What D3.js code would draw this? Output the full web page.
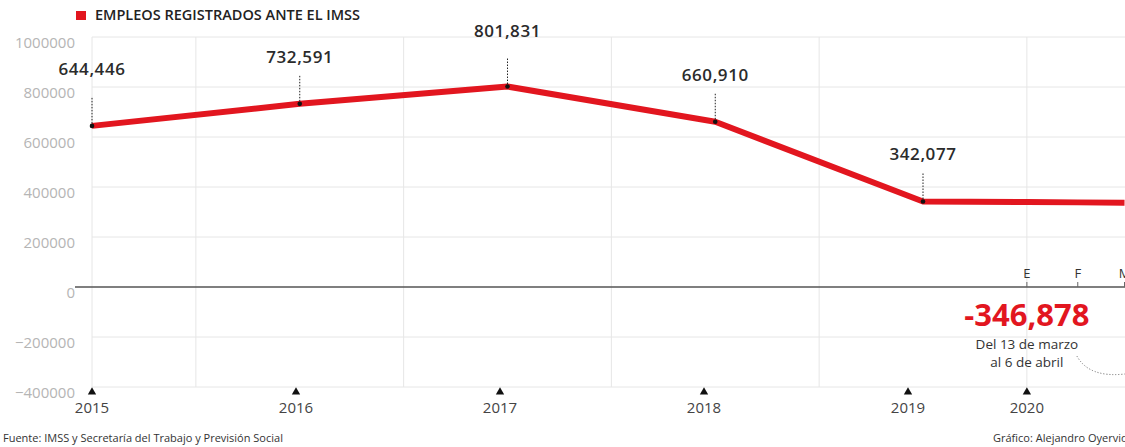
<!DOCTYPE html>
<html>
<head>
<meta charset="utf-8">
<script src="https://cdnjs.cloudflare.com/ajax/libs/d3/7.8.5/d3.min.js"></script>
<style>
  body { margin: 0; background: #fff; }
  svg { display: block; font-family: 'Open Sans', sans-serif; }
</style>
</head>
<body>
<script>
var years = [2015, 2016, 2017, 2018, 2019];
var employment = [644446, 732591, 801831, 660910, 342077];
var months2020 = ['E', 'F', 'M'];
var monthPos = [2019.5, 2019.745, 2019.97];
var employment2020 = [340000, 338500, 337000];
var yTicks = [1000000, 800000, 600000, 400000, 200000, 0, -200000, -400000];
var axisYears = [2015, 2016, 2017, 2018, 2019, 2020];
var vGrid = [2015, 2015.5, 2016.5, 2017.5, 2018.5, 2019.5];
var dropValue = '-346,878';
var dropNote = ['Del 13 de marzo', 'al 6 de abril'];

var width = 1125, height = 447;
var red = '#e2161f';

var svg = d3.select('body').append('svg')
    .attr('width', width)
    .attr('height', height);

var x = d3.scaleLinear().domain([2015, 2019]).range([92, 923]);
var xYear = d3.scaleLinear().domain([2015, 2019]).range([92, 908]);
var y = d3.scaleLinear().domain([-400000, 1000000]).range([387, 37]);

function yearX(d) { return d === 2020 ? x(monthPos[0]) : xYear(d); }

// grid
svg.append('g').selectAll('line')
    .data(yTicks.filter(function(d) { return d !== 0; }))
    .enter().append('line')
    .attr('x1', x(2015)).attr('x2', width)
    .attr('y1', function(d) { return y(d); })
    .attr('y2', function(d) { return y(d); })
    .attr('stroke', '#e6e6e6');

svg.append('g').selectAll('line')
    .data(vGrid)
    .enter().append('line')
    .attr('x1', function(d) { return x(d); })
    .attr('x2', function(d) { return x(d); })
    .attr('y1', y(1000000)).attr('y2', y(-400000))
    .attr('stroke', '#e6e6e6');

// y labels
var yAxis = svg.append('g')
    .attr('transform', 'translate(75,0)')
    .call(d3.axisLeft(y).tickValues(yTicks).tickFormat(d3.format('d')).tickSize(0).tickPadding(0));
yAxis.select('.domain').remove();
yAxis.selectAll('text')
    .attr('y', 6)
    .attr('fill', '#b5b5b5')
    .style('font-size', '15px')
    .style('font-family', "'Open Sans', sans-serif");

// zero line
svg.append('line')
    .attr('x1', 75).attr('x2', width)
    .attr('y1', y(0)).attr('y2', y(0))
    .attr('stroke', '#555')
    .attr('stroke-width', 1.6);

// month ticks
var mTicks = svg.append('g').selectAll('g')
    .data(months2020)
    .enter().append('g')
    .attr('transform', function(d, i) { return 'translate(' + x(monthPos[i]) + ',' + y(0) + ')'; });
mTicks.append('line').attr('y1', -5).attr('y2', 0).attr('stroke', '#666');
mTicks.append('text')
    .attr('y', -9)
    .attr('text-anchor', 'middle')
    .attr('fill', '#333')
    .style('font-size', '13px')
    .text(function(d) { return d; });

// series
var points = years.map(function(d, i) { return { x: d, v: employment[i] }; });
var tail = monthPos.map(function(d, i) { return { x: d, v: employment2020[i] }; });
var line = d3.line()
    .x(function(d) { return x(d.x); })
    .y(function(d) { return y(d.v); });

svg.append('path')
    .datum(points.concat(tail))
    .attr('d', line)
    .attr('fill', 'none')
    .attr('stroke', red)
    .attr('stroke-width', 6)
    .attr('stroke-linejoin', 'round');

// value labels
var extraLift = { 2015: 10, 2017: 9 };
var lab = svg.append('g').selectAll('g')
    .data(points)
    .enter().append('g')
    .attr('transform', function(d) { return 'translate(' + x(d.x) + ',' + y(d.v) + ')'; });
lab.append('line')
    .attr('y1', -28).attr('y2', 0)
    .attr('stroke', '#222')
    .attr('stroke-dasharray', '1.5,1.5');
lab.append('circle').attr('r', 2.3).attr('fill', '#111');
lab.append('text')
    .attr('y', function(d) { return -41 - (extraLift[d.x] || 0); })
    .attr('text-anchor', 'middle')
    .attr('fill', '#2b2b2b')
    .style('font-size', '17px')
    .style('font-weight', 600)
    .style('letter-spacing', '0.6px')
    .text(function(d) { return d3.format(',')(d.v); });

// year axis
var yr = svg.append('g').selectAll('g')
    .data(axisYears)
    .enter().append('g')
    .attr('transform', function(d) { return 'translate(' + yearX(d) + ',0)'; });
yr.append('path')
    .attr('transform', 'translate(0,392)')
    .attr('d', d3.symbol().type(d3.symbolTriangle).size(30))
    .attr('fill', '#111');
yr.append('text')
    .attr('y', 413)
    .attr('text-anchor', 'middle')
    .attr('fill', '#444')
    .style('font-size', '15px')
    .text(function(d) { return d; });

// annotation
var ax = x(monthPos[0]);
svg.append('text')
    .attr('x', ax).attr('y', 326)
    .attr('text-anchor', 'middle')
    .attr('fill', red)
    .style('font-size', '31px')
    .style('font-weight', 700)
    .text(dropValue);
svg.append('g').selectAll('text')
    .data(dropNote)
    .enter().append('text')
    .attr('x', ax)
    .attr('y', function(d, i) { return 349 + i * 18; })
    .attr('text-anchor', 'middle')
    .attr('fill', '#333')
    .style('font-size', '13.5px')
    .text(function(d) { return d; });
svg.append('path')
    .attr('d', 'M' + (ax + 50) + ',356 Q' + (ax + 62) + ',378 ' + width + ',374')
    .attr('fill', 'none')
    .attr('stroke', '#777')
    .attr('stroke-dasharray', '1.2,1.8');

// title
svg.append('rect')
    .attr('x', 76).attr('y', 11)
    .attr('width', 10).attr('height', 9)
    .attr('fill', red);
svg.append('text')
    .attr('x', 95).attr('y', 20)
    .attr('fill', '#222')
    .style('font-size', '14.5px')
    .style('font-weight', 600)
    .text('EMPLEOS REGISTRADOS ANTE EL IMSS');

// footer
svg.append('text')
    .attr('x', 3).attr('y', 442)
    .attr('fill', '#333')
    .style('font-size', '11px')
    .text('Fuente: IMSS y Secretaría del Trabajo y Previsión Social');
svg.append('text')
    .attr('x', 993).attr('y', 442)
    .attr('fill', '#333')
    .style('font-size', '11px')
    .text('Gráfico: Alejandro Oyervides');
</script>
</body>
</html>
